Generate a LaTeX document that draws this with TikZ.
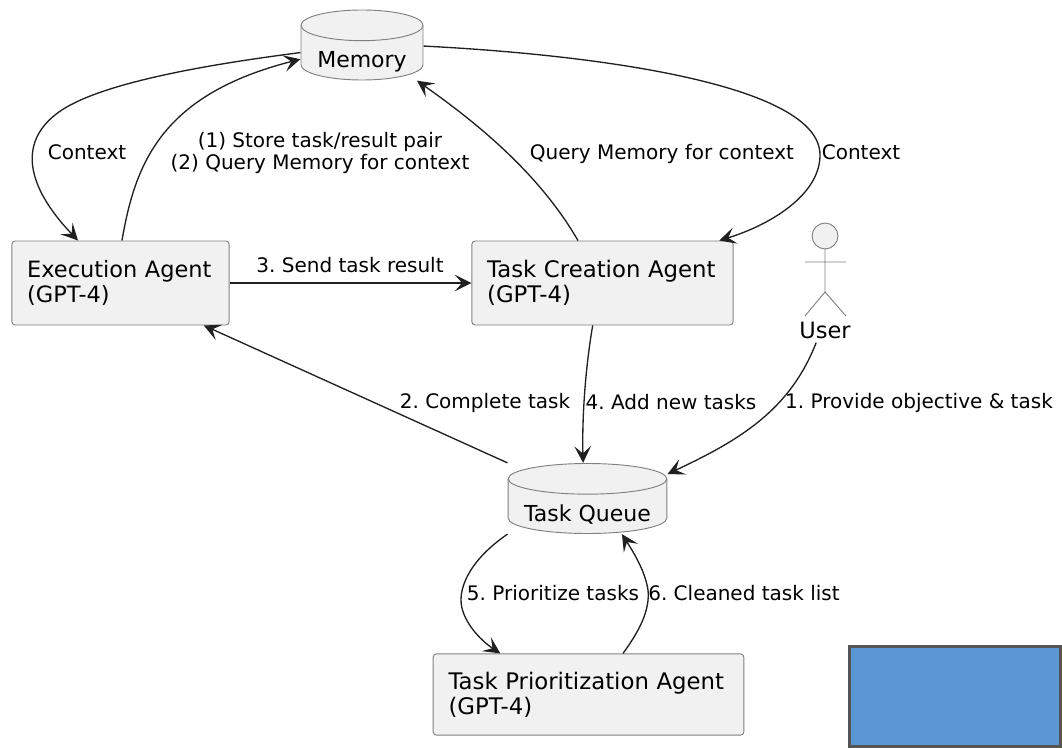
\documentclass[tikz,border=0pt]{standalone}
\usepackage{fontspec}
\setmainfont{DejaVu Sans}
\usetikzlibrary{arrows.meta}
\definecolor{boxfill}{HTML}{F1F1F1}
\definecolor{boxline}{HTML}{808080}
\definecolor{flowline}{HTML}{202020}
\definecolor{patchblue}{HTML}{5B97D5}
\definecolor{patchline}{HTML}{555555}
\tikzset{
  agent/.style={draw=boxline,fill=boxfill,rounded corners=2.5pt,line width=0.7pt,align=left,inner sep=0pt,font=\fontsize{17.1}{18.8}\selectfont},
  drum/.style={draw=boxline,fill=boxfill,line width=0.7pt},
  store/.style={rectangle,inner sep=0pt,outer sep=0pt,minimum width=#1+1pt,minimum height=53.5pt,text height=34pt,text depth=0pt,font=\fontsize{16.5}{18.8}\selectfont,
    path picture={
      \filldraw[drum] ([xshift=0.5pt,yshift=-12pt]path picture bounding box.north west) arc[start angle=180,end angle=0,x radius=0.5*#1,y radius=11.5pt]
        -- ([xshift=-0.5pt,yshift=12pt]path picture bounding box.south east) arc[start angle=0,end angle=-180,x radius=0.5*#1,y radius=11.5pt] -- cycle;
      \draw[drum,fill=none] ([xshift=0.5pt,yshift=-12pt]path picture bounding box.north west) arc[start angle=180,end angle=360,x radius=0.5*#1,y radius=11.5pt];
    }},
  flowlabel/.style={align=center,inner sep=0pt,font=\fontsize{15}{17.2}\selectfont},
  flow/.style={draw=flowline,line width=1pt,-{Stealth[length=12.5pt,width=12.5pt,inset=5.5pt]}},
  limb/.style={draw=boxline,line width=0.7pt}
}
\begin{document}
\frenchspacing
\begin{tikzpicture}[x=0.75pt,y=-0.75pt]
\useasboundingbox (0,0) rectangle (1062,748);
\node[store=91.5pt] (memory) at (362,45) {Memory};
\node[store=119pt] (queue) at (587.5,498.5) {Task Queue};
\node[agent,minimum height=63pt,text width=140pt,inner xsep=11.5pt,font=\fontsize{16.85}{18.8}\selectfont] (exec) at (120.5,283) {Execution Agent\\(GPT-4)};
\node[agent,minimum height=63pt,text width=173pt,inner xsep=11.5pt] (create) at (602.5,283) {Task Creation Agent\\(GPT-4)};
\node[agent,minimum height=61pt,text width=210pt,inner xsep=11.5pt] (prior) at (588.5,694.5) {Task Prioritization Agent\\(GPT-4)};
\node[font=\fontsize{16.85}{18.8}\selectfont,inner xsep=0pt,inner ysep=3pt] (user) at (825,330) {User};
\node[draw=patchline,fill=patchblue,line width=2.2pt,minimum width=158pt,minimum height=75.5pt,inner sep=0pt] (patch) at (955,696.5) {};
\draw[limb,fill=boxfill] (825,236) circle (9.7pt);
\draw[limb] (825,249) -- (825,292) (805,262) -- (846,262) (805,316) -- (825,292) -- (846,316);
\path[flow] (memory.187.5) .. controls (220,63) and (95,82) .. (55,115) .. controls (20,143) and (25,185) .. (exec.135);
\path[flow] (exec.88) .. controls (135,165) and (160,95) .. (memory.193.8);
\path[flow] (memory.-1.9) .. controls (600,55) and (820,85) .. (820,155) .. controls (820,195) and (770,225) .. (create.20);
\path[flow] (create.120) .. controls (540,175) and (480,125) .. (memory.-33);
\path[flow] (exec.east) -- (create.west);
\path[flow] (queue.156) -- (exec.-27.5);
\path[flow] (create.-103) .. controls (585,370) and (582,420) .. (queue.97.4);
\path[flow] (user.-125) .. controls (790,410) and (740,440) .. (queue.17.8);
\path[flow] (queue.204.6) .. controls (470,560) and (461,585) .. (461,600) .. controls (461,620) and (480,640) .. (prior.155);
\path[flow] (prior.50) .. controls (640,630) and (650,610) .. (648,590) .. controls (645,570) and (632,550) .. (queue.-46.7);
\node[flowlabel] (ctxleft) at (87,152) {Context};
\node[flowlabel] (storelabel) at (320,153) {(1) Store task/result pair\\(2) Query Memory for context};
\node[flowlabel] (sendlabel) at (350,265) {3. Send task result};
\node[flowlabel] (querylabel) at (662,154) {Query Memory for context};
\node[flowlabel] (ctxright) at (861,152) {Context};
\node[flowlabel] (donelabel) at (485,403) {2. Complete task};
\node[flowlabel] (addlabel) at (671,402) {4. Add new tasks};
\node[flowlabel] (objlabel) at (919,403) {1. Provide objective \& task};
\node[flowlabel] (priolabel) at (553,593) {5. Prioritize tasks};
\node[flowlabel] (cleanlabel) at (744,593) {6. Cleaned task list};
\end{tikzpicture}
\end{document}
